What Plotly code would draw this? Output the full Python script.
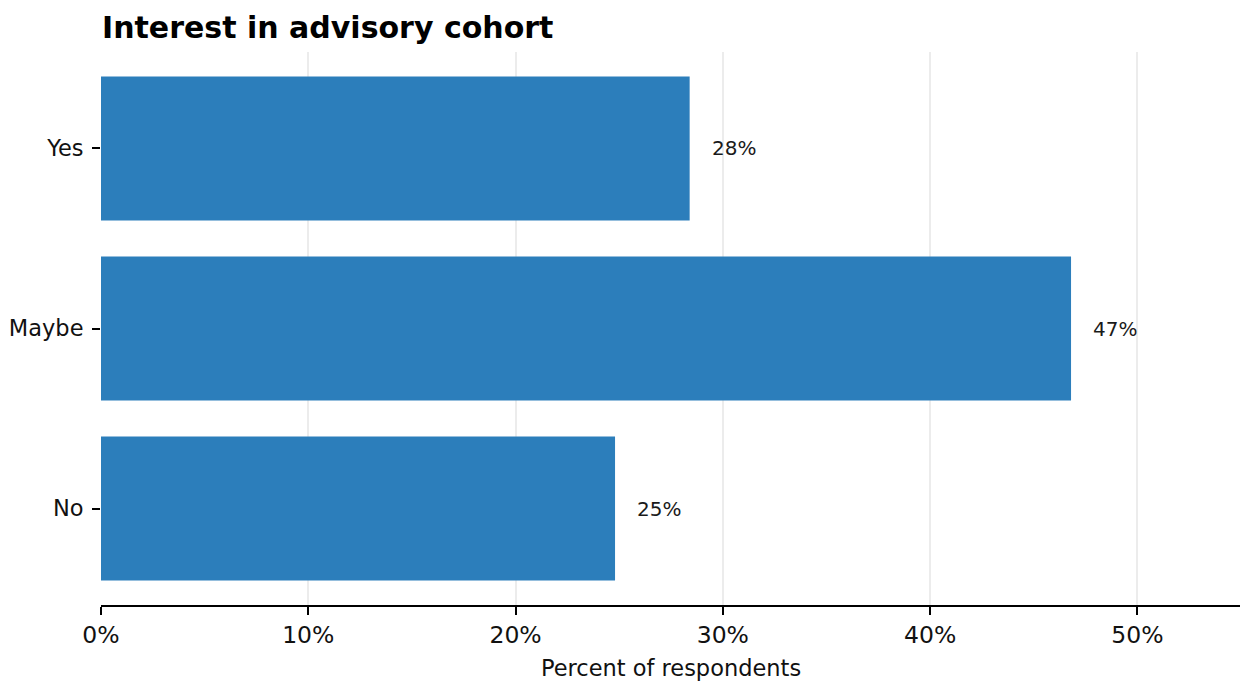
import plotly.graph_objects as go

categories = ["No", "Maybe", "Yes"]
percents = [24.8, 46.8, 28.4]
labels = ["25%", "47%", "28%"]
x_ticks = [0, 10, 20, 30, 40, 50]
x_tick_labels = ["0%", "10%", "20%", "30%", "40%", "50%"]

W, H = 1240, 673  # page body adds an 8px margin

fig = go.Figure()
fig.add_trace(go.Bar(
    x=percents, y=categories, orientation="h",
    marker=dict(color="#2c7ebb", line=dict(width=0)),
    width=0.8, hoverinfo="skip",
))
for c, v, t in zip(categories, percents, labels):
    fig.add_annotation(x=v, y=c, text=t, showarrow=False, xanchor="left",
                       xshift=20, font=dict(size=20, color="#1a1a1a",
                       family="DejaVu Sans"))

fig.update_layout(
    width=W, height=H,
    margin=dict(l=93, r=7, t=44, b=76),
    paper_bgcolor="white", plot_bgcolor="white",
    font=dict(family="DejaVu Sans", color="#111111"),
    showlegend=False,
    title=dict(text="<b>Interest in advisory cohort</b>", x=94/W, xanchor="left",
               y=1-19/H, yanchor="middle", font=dict(size=30, color="black")),
)
fig.update_xaxes(
    range=[0, 55], tickvals=x_ticks, ticktext=x_tick_labels,
    showgrid=True, gridcolor="rgba(205,205,205,0.38)", gridwidth=1.5,
    showline=True, linecolor="black", linewidth=1.5,
    ticks="outside", ticklen=8, tickwidth=1.5, tickcolor="black",
    tickfont=dict(size=23.5, color="#111111"), ticklabelstandoff=0,
    title=dict(text="Percent of respondents", font=dict(size=22.5), standoff=20),
    zeroline=False, layer="above traces", automargin=False,
)
fig.update_yaxes(
    range=[-0.536, 2.536], showgrid=False, showline=False, zeroline=False,
    ticks="outside", ticklen=8, tickwidth=1.5, tickcolor="black",
    tickfont=dict(size=22.5, color="#111111"), ticklabelstandoff=4,
    automargin=False,
)
fig.write_html("out.html")
